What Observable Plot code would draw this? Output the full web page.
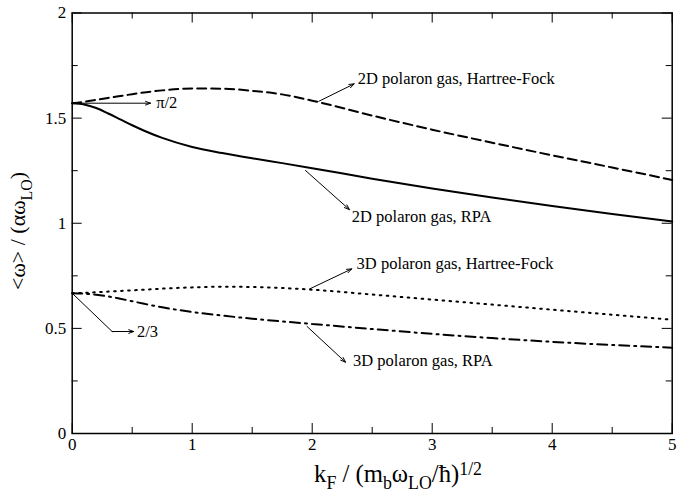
<!DOCTYPE html>
<html><head><meta charset="utf-8">
<script src="https://cdn.jsdelivr.net/npm/d3@7"></script>
<script src="https://cdn.jsdelivr.net/npm/@observablehq/plot@0.6"></script>
<style>
body{margin:0;background:#fff}
</style>
</head><body><div id="chart"></div>
<script>
// ---- data ----
const kF    = [0,0.1,0.2,0.3,0.4,0.5,0.6,0.75,1,1.25,1.5,1.75,2,2.5,3,3.5,4,4.5,5];
const rpa2D = [1.571,1.565,1.548,1.522,1.494,1.466,1.440,1.406,1.363,1.334,1.309,1.286,1.262,1.212,1.165,1.122,1.082,1.044,1.008];
const hf2D  = [1.571,1.578,1.587,1.596,1.605,1.614,1.622,1.632,1.641,1.640,1.630,1.613,1.583,1.512,1.445,1.383,1.323,1.265,1.206];
const hf3D  = [0.667,0.669,0.672,0.675,0.678,0.681,0.684,0.689,0.695,0.698,0.697,0.692,0.684,0.661,0.637,0.613,0.589,0.565,0.541];
const rpa3D = [0.667,0.665,0.660,0.652,0.641,0.629,0.617,0.600,0.578,0.561,0.546,0.533,0.521,0.497,0.474,0.454,0.436,0.421,0.408];

const xMajor = [0,1,2,3,4,5];
const xMinor = [0.5,1.5,2.5,3.5,4.5];
const yMajor = [0,0.5,1,1.5,2];
const yMinor = [0.25,0.75,1.25,1.75];

// annotation labels
const labelText = ["2D polaron gas, Hartree-Fock","2D polaron gas, RPA","3D polaron gas, Hartree-Fock","3D polaron gas, RPA","π/2","2/3"];
const labelX    = [2.38, 2.33, 2.37, 2.34, 0.70, 0.54];
const labelY    = [1.687, 1.029, 0.808, 0.347, 1.571, 0.485];
// arrows (from curve to label)
const arrX1 = [2.055, 1.944, 1.98, 1.957, 0.0, 0.333];
const arrY1 = [1.580, 1.251, 0.688, 0.509, 1.571, 0.485];
const arrX2 = [2.35, 2.31, 2.33, 2.278, 0.653, 0.513];
const arrY2 = [1.663, 1.065, 0.783, 0.339, 1.571, 0.485];
// the leader segment for 2/3
const legX = [0, 0.333];
const legY = [0.667, 0.485];

// ---- layout ----
const W = 691, H = 497;
const mL = 71.7, mR = 19.3, mT = 12.5, mB = 64;
const innerH = H - mT - mB;
const innerW = W - mL - mR;
const majorLen = 10, minorLen = 6;
const FONT = "Liberation Serif";

const series = [
  {name:"rpa2D", vals: rpa2D, dash: null},
  {name:"hf2D", vals: hf2D, dash: "9,5"},
  {name:"hf3D", vals: hf3D, dash: "1.6,5.4"},
  {name:"rpa3D", vals: rpa3D, dash: "10,5,2,5"}
];
const lineMarks = series.map(s => Plot.line(kF.map((k,i)=>({k, v:s.vals[i]})), {
  x:"k", y:"v", stroke:"black", strokeWidth: 2, curve:"monotone-x",
  strokeDasharray: s.dash
}));

const labels = labelText.map((t,i)=>({t, x:labelX[i], y:labelY[i]}));
const arrows = arrX1.map((x1,i)=>({x1, y1:arrY1[i], x2:arrX2[i], y2:arrY2[i]}));
const leg = legX.map((x,i)=>({x, y:legY[i]}));

const chart = Plot.plot({
  width: W, height: H,
  marginLeft: mL, marginRight: mR, marginTop: mT, marginBottom: mB,
  x: {domain:[0,5]},
  y: {domain:[0,2]},
  marks: [
    Plot.tickX(xMajor, {x: d=>d, insetTop: innerH - majorLen, stroke:"black"}),
    Plot.tickX(xMinor, {x: d=>d, insetTop: innerH - minorLen, stroke:"black"}),
    Plot.tickX(xMajor, {x: d=>d, insetBottom: innerH - majorLen, stroke:"black"}),
    Plot.tickX(xMinor, {x: d=>d, insetBottom: innerH - minorLen, stroke:"black"}),
    Plot.tickY(yMajor, {y: d=>d, insetRight: innerW - majorLen, stroke:"black"}),
    Plot.tickY(yMinor, {y: d=>d, insetRight: innerW - minorLen, stroke:"black"}),
    Plot.tickY(yMajor, {y: d=>d, insetLeft: innerW - majorLen, stroke:"black"}),
    Plot.tickY(yMinor, {y: d=>d, insetLeft: innerW - minorLen, stroke:"black"}),
    Plot.axisX(xMajor, {tickSize:0, tickPadding:4, fontSize:17, fontFamily: FONT, label:null, tickFormat: d=>String(d)}),
    Plot.axisY(yMajor, {tickSize:0, tickPadding:6, fontSize:17, fontFamily: FONT, label:null, tickFormat: d=>String(d)}),
    ...lineMarks,
    Plot.line(leg, {x:"x", y:"y", stroke:"black", strokeWidth:1}),
    Plot.arrow(arrows, {x1:"x1", y1:"y1", x2:"x2", y2:"y2", stroke:"black", strokeWidth:1, headLength:8, headAngle:40}),
    Plot.text(labels, {x:"x", y:"y", text:"t", textAnchor:"start", fontSize:16.5, fontFamily: FONT, fill:"black"}),
    Plot.frame({stroke:"black", strokeWidth:1.5})
  ]
});
document.getElementById("chart").appendChild(chart);

const svg = d3.select(chart);
svg.style("font-family", FONT);

function richText(parent, parts, size) {
  const t = parent.append("text").attr("font-family", FONT).attr("fill","black")
    .attr("text-anchor","middle").attr("font-size", size);
  let level = 0;
  for (const [s, kind] of parts) {
    const target = kind === "sub" ? 1 : kind === "sup" ? -1 : 0;
    const shift = (target - level) * size * 0.3;
    const sp = t.append("tspan").text(s);
    if (shift) sp.attr("dy", shift);
    if (target !== 0) sp.attr("font-size", size * 0.72);
    level = target;
  }
  return t;
}

// x axis title
const xParts = [["k"],["F","sub"],[" / (m"],["b","sub"],["ω"],["LO","sub"],["/ħ)"],["1/2","sup"]];
let xSize = 20;
let xt = richText(svg, xParts, xSize);
const xw = xt.node().getBBox().width;
xt.remove();
xSize = xSize * 168 / xw;
xt = richText(svg, xParts, xSize)
  .attr("x", 398).attr("y", H - 15);

// y axis title
const yParts = [["<ω> / (αω"],["LO","sub"],[")"]];
const yg = svg.append("g").attr("transform", `translate(25,231) rotate(-90)`);
let ySize = 18;
let yt = richText(yg, yParts, ySize);
const yw = yt.node().getBBox().width;
yt.remove();
ySize = ySize * 118 / yw;
yt = richText(yg, yParts, ySize);
</script>
</body></html>
